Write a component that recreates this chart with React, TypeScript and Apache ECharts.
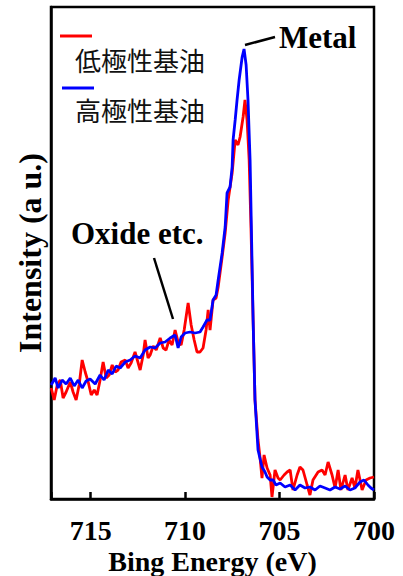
import React, { useEffect, useRef } from "react";
import * as echarts from "echarts";

// Binding energy (eV) and intensity (a.u.) readings
const lowPolarityX = [
  717.09, 716.93, 716.77, 716.61, 716.46, 716.3, 716.08, 715.93, 715.77, 715.61,
  715.45, 715.29, 715.13, 714.97, 714.81, 714.66, 714.5, 714.34, 714.18, 714.02,
  713.86, 713.7, 713.55, 713.39, 713.17, 713.02, 712.86, 712.65, 712.38, 712.22,
  712.12, 711.96, 711.85, 711.69, 711.53, 711.32, 711.16, 711.01, 710.85, 710.69,
  710.53, 710.37, 710.21, 710.05, 709.84, 709.68, 709.52, 709.37, 709.21, 709.05,
  708.89, 708.78, 708.68, 708.52, 708.36, 708.25, 708.04, 707.88, 707.72, 707.51,
  707.35, 707.2, 707.09, 706.93, 706.83, 706.72, 706.61, 706.51, 706.4, 706.3,
  706.14, 706.03, 705.93, 705.82, 705.66, 705.5, 705.4, 705.24, 705.08, 704.97,
  704.76, 704.6, 704.44, 704.29, 704.07, 703.92, 703.76, 703.54, 703.39, 703.23,
  702.96, 702.75, 702.59, 702.43, 702.22, 702.06, 701.9, 701.75, 701.53, 701.38,
  701.16, 701.01, 700.85, 700.63, 700.42, 700.21, 700.0,
];
const lowPolarityY = [
  111, 99, 114, 119, 101, 107, 117, 107, 99, 114,
  139, 127, 117, 104, 109, 104, 119, 137, 121, 124,
  134, 127, 129, 137, 139, 131, 136, 147, 129, 144,
  159, 141, 144, 153, 149, 161, 151, 149, 159, 154,
  169, 157, 154, 169, 196, 174, 159, 147, 147, 151,
  169, 189, 169, 199, 201, 212, 242, 266, 299, 326,
  359, 354, 362, 382, 399, 379, 339, 269, 179, 99,
  59, 41, 21, 44, 31, 24, 2, 29, 21, 19,
  24, 27, 29, 9, 24, 32, 29, 14, 4, 19,
  27, 29, 24, 37, 24, 11, 29, 9, 24, 9,
  21, 11, 29, 9, 19, 21, 22,
];

const highPolarityX = [
  717.09, 716.88, 716.72, 716.51, 716.3, 716.08, 715.87, 715.66, 715.45, 715.24,
  715.03, 714.76, 714.5, 714.29, 714.07, 713.86, 713.65, 713.44, 713.17, 712.91,
  712.65, 712.38, 712.12, 711.85, 711.59, 711.32, 711.06, 710.79, 710.53, 710.37,
  710.21, 710.0, 709.74, 709.47, 709.21, 709.05, 708.84, 708.68, 708.52, 708.36,
  708.25, 708.04, 707.88, 707.78, 707.62, 707.51, 707.46, 707.35, 707.25, 707.14,
  706.98, 706.88, 706.77, 706.67, 706.56, 706.46, 706.4, 706.3, 706.14, 705.93,
  705.77, 705.66, 705.5, 705.34, 705.19, 704.97, 704.71, 704.44, 704.18, 703.92,
  703.65, 703.39, 703.12, 702.86, 702.59, 702.33, 702.06, 701.8, 701.53, 701.27,
  701.01, 700.74, 700.53, 700.32, 700.16, 700.0,
];
const highPolarityY = [
  114, 121, 111, 119, 115, 121, 113, 119, 111, 118,
  120, 115, 124, 119, 129, 125, 133, 131, 137, 139,
  143, 141, 149, 152, 151, 156, 157, 161, 164, 151,
  162, 166, 167, 166, 167, 172, 179, 179, 199, 204,
  219, 246, 272, 306, 312, 332, 359, 379, 399, 419,
  442, 450, 434, 399, 339, 239, 179, 99, 49, 32,
  27, 22, 19, 19, 14, 16, 12, 14, 9, 14,
  11, 12, 9, 13, 11, 9, 12, 10, 13, 9,
  11, 17, 19, 14, 11, 9,
];

const xTicks = [700, 705, 710, 715];
const seriesNames = ["低極性基油", "高極性基油"];
const seriesColors = ["#ff0000", "#0000ff"];

const SERIF = '"Liberation Serif", "Times New Roman", serif';
const CJK = '"Noto Sans CJK JP", "Noto Sans CJK SC", sans-serif';

export default function App() {
  const ref = useRef<HTMLDivElement>(null);
  useEffect(() => {
    if (!ref.current) return;
    const chart = echarts.init(ref.current, undefined, { renderer: "svg" });
    const low = lowPolarityX.map((x, i) => [x, lowPolarityY[i]]);
    const high = highPolarityX.map((x, i) => [x, highPolarityY[i]]);
    chart.setOption({
      animation: false,
      backgroundColor: "#ffffff",
      grid: {
        left: 51,
        top: 7,
        width: 323,
        height: 492,
        outerBoundsMode: "none",
        containLabel: false,
        show: true,
        borderColor: "#000",
        borderWidth: 2.5,
        backgroundColor: "transparent",
      },
      xAxis: {
        type: "value",
        min: 700,
        max: 717.1,
        interval: 5,
        inverse: true,
        name: "Bing Energy (eV)",
        nameLocation: "middle",
        nameGap: 50,
        nameMoveOverlap: false,
        nameTextStyle: {
          fontFamily: SERIF,
          fontWeight: "bold",
          fontSize: 28,
          lineHeight: 24,
          color: "#000",
        },
        axisLine: { show: true, lineStyle: { color: "#000", width: 2.5 } },
        axisTick: {
          show: true,
          inside: true,
          length: 7,
          lineStyle: { color: "#000", width: 2.5 },
        },
        axisLabel: {
          fontFamily: SERIF,
          fontWeight: "bold",
          fontSize: 28,
          lineHeight: 20,
          color: "#000",
          margin: 21,
          formatter: (v: number) => (xTicks.includes(Math.round(v * 100) / 100) ? String(v) : ""),
        },
        splitLine: { show: false },
      },
      yAxis: {
        type: "value",
        min: 0,
        max: 492,
        name: "Intensity (a u.)",
        nameLocation: "middle",
        nameGap: 5,
        nameMoveOverlap: false,
        nameTextStyle: {
          fontFamily: SERIF,
          fontWeight: "bold",
          fontSize: 32,
          color: "#000",
        },
        axisLine: { show: true, lineStyle: { color: "#000", width: 2.5 } },
        axisTick: { show: false },
        axisLabel: { show: false },
        splitLine: { show: false },
      },
      series: [
        {
          name: seriesNames[0],
          type: "line",
          data: low,
          showSymbol: false,
          lineStyle: { color: seriesColors[0], width: 2.8 },
          itemStyle: { color: seriesColors[0] },
          z: 2,
        },
        {
          name: seriesNames[1],
          type: "line",
          data: high,
          showSymbol: false,
          lineStyle: { color: seriesColors[1], width: 2.8 },
          itemStyle: { color: seriesColors[1] },
          z: 3,
        },
      ],
      graphic: [
        { type: "line", shape: { x1: 60, y1: 36, x2: 92, y2: 36 }, style: { stroke: seriesColors[0], lineWidth: 3 } },
        { type: "text", left: 75, top: 63 - 17, style: { text: seriesNames[0], font: `26px ${CJK}`, fill: "#111" } },
        { type: "line", shape: { x1: 62, y1: 88, x2: 94, y2: 88 }, style: { stroke: seriesColors[1], lineWidth: 3 } },
        { type: "text", left: 75, top: 113 - 17, style: { text: seriesNames[1], font: `26px ${CJK}`, fill: "#111" } },
        { type: "text", left: 279, top: 39 - 17, style: { text: "Metal", font: `bold 31px ${SERIF}`, fill: "#000" } },
        { type: "line", shape: { x1: 245, y1: 45, x2: 275, y2: 37 }, style: { stroke: "#000", lineWidth: 2.5 } },
        { type: "text", left: 71, top: 235 - 17, style: { text: "Oxide etc.", font: `bold 31px ${SERIF}`, fill: "#000" } },
        { type: "line", shape: { x1: 154, y1: 258, x2: 173, y2: 319 }, style: { stroke: "#000", lineWidth: 2.5 } },
      ],
    });
    return () => chart.dispose();
  }, []);
  return (
    <div
      ref={ref}
      style={{ position: "fixed", left: 0, top: 0, width: 403, height: 576, background: "#fff" }}
    />
  );
}
